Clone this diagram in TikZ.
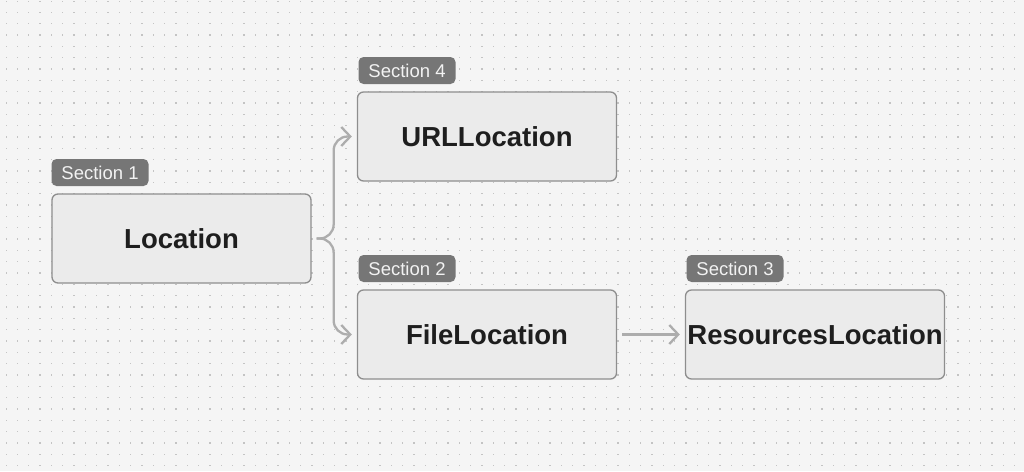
\documentclass[tikz,border=0pt]{standalone}
\usepackage{fontspec}
\setmainfont{Liberation Sans}
\usetikzlibrary{arrows.meta}
\definecolor{bg}{HTML}{F5F5F5}
\definecolor{dotc}{HTML}{C4C4C4}
\definecolor{boxfill}{HTML}{EBEBEB}
\definecolor{boxline}{HTML}{8E8E8E}
\definecolor{tagfill}{HTML}{767676}
\definecolor{tagtext}{HTML}{F2F2F2}
\definecolor{conncol}{HTML}{ADADAD}
\definecolor{txt}{HTML}{1E1E1E}
\tikzset{
  box/.style={draw=boxline, line width=1.3pt, fill=boxfill, rounded corners=6pt,
    minimum width=259pt, minimum height=89pt, inner sep=0pt,
    font=\fontsize{27.5}{30}\selectfont\bfseries, text=txt},
  tag/.style={fill=tagfill, rounded corners=5pt, minimum width=97pt, minimum height=27pt,
    inner sep=0pt, font=\fontsize{18.5}{21}\selectfont, text=tagtext},
  conn/.style={draw=conncol, line width=2.3pt, rounded corners=14pt,
    -{Straight Barb[length=9pt,width=19pt,line width=2.3pt]},
    shorten <=5pt, shorten >=5pt}
}
\begin{document}
\begin{tikzpicture}[x=1pt,y=-1pt]
\useasboundingbox (0,0) rectangle (1024,471);
\fill[bg] (0,0) rectangle (1024,471);
\foreach \i in {0,...,90}{
  \foreach \j in {0,...,41}{
    \fill[dotc] ({5.5+\i*11.333},{0.5+\j*11.333}) rectangle ++(1.2,1.2);
  }
}
\node[box] (loc) at (181.5,238.5) {Location};
\node[box] (url) at (487,136.5) {URLLocation};
\node[box] (file) at (487,334.5) {FileLocation};
\node[box] (res) at (815,334.5) {ResourcesLocation};
\node[tag] (t1) at (100,172.5) {Section 1};
\node[tag] (t4) at (407,70.5) {Section 4};
\node[tag] (t2) at (407,268.5) {Section 2};
\node[tag] (t3) at (735,268.5) {Section 3};
\draw[conn] (loc.east) -- ++(22,0) |- (url.west);
\draw[conn] (loc.east) -- ++(22,0) |- (file.west);
\draw[conn] (file.east) -- (res.west);
\end{tikzpicture}
\end{document}
